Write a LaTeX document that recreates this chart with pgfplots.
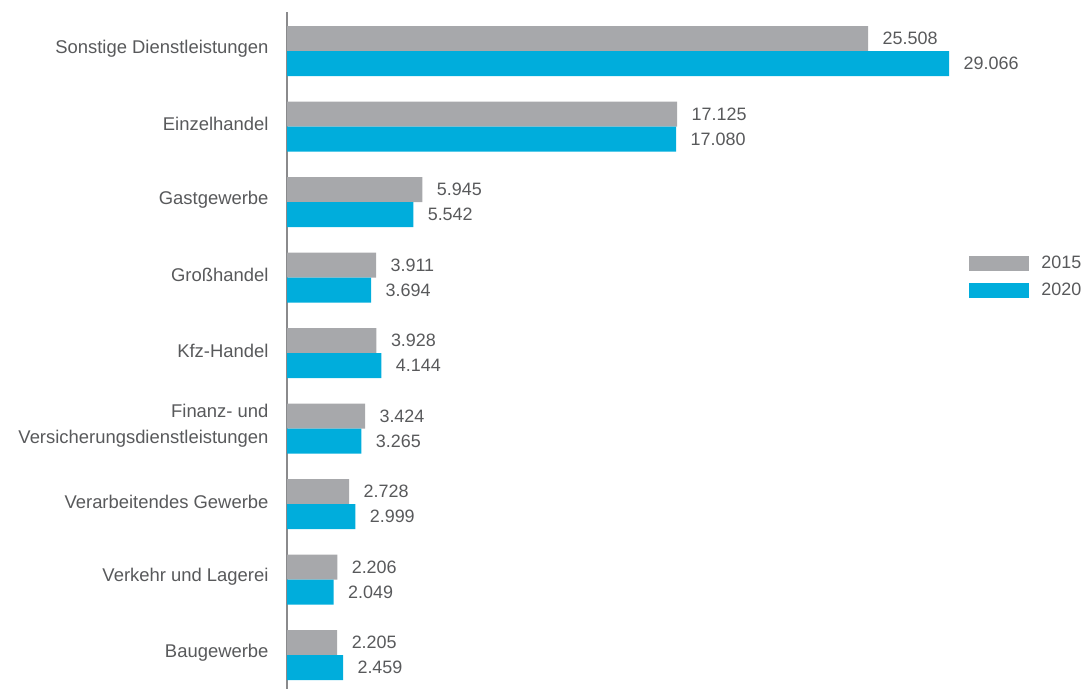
\documentclass[border=0pt]{standalone}
\usepackage{pgfplots}
\pgfplotsset{compat=1.18}
\usepackage{fontspec}
\setmainfont{Liberation Sans}
\definecolor{g15}{HTML}{A7A8AB}
\definecolor{c20}{HTML}{00ADDC}
\definecolor{txt}{HTML}{58595B}
\definecolor{axl}{HTML}{8A8A8C}
\begin{document}
\begin{tikzpicture}
\useasboundingbox (0,0) rectangle (1086bp,689bp);
\begin{axis}[
  at={(287bp,0bp)}, anchor=south west,
  scale only axis, width=799bp, height=677bp,
  xbar, bar width=25bp,
  xmin=0, xmax=35070,
  ymin=-0.45, ymax=8.52,
  axis x line=none,
  axis y line*=left,
  y axis line style={draw=axl, line width=1.2bp, -},
  major tick length=0pt,
  ytick={0,1,2,3,4,5,6,7,8},
  yticklabels={Baugewerbe,Verkehr und Lagerei,Verarbeitendes Gewerbe,{Finanz- und\\Versicherungsdienstleistungen},Kfz-Handel,Großhandel,Gastgewerbe,Einzelhandel,Sonstige Dienstleistungen},
  yticklabel style={font=\fontsize{18.5}{26}\selectfont, text=txt, align=right, anchor=east, xshift=-15bp, yshift=2.5bp},
  nodes near coords,
  every node near coord/.append style={font=\fontsize{18}{20}\selectfont, text=txt, anchor=west, xshift=11bp},
  /pgf/number format/.cd, 1000 sep={.}, assume math mode=true,
  /pgfplots/.cd,
  legend style={draw=none, fill=none, at={(rel axis cs:0.85,0.609)}, anchor=west, font=\fontsize{18}{20}\selectfont, text=txt, row sep=9bp, /tikz/every even column/.append style={column sep=0bp}},
  legend cell align=left,
  legend image code/.code={\path[#1,draw=none] (0bp,-7.5bp) rectangle (60bp,7.5bp);},
  legend style={nodes={inner xsep=12bp}},
]
\addplot[fill=g15, draw=none, bar shift=12.5bp] coordinates {
(2205,0) (2206,1) (2728,2) (3424,3) (3928,4) (3911,5) (5945,6) (17125,7) (25508,8)};
\addplot[fill=c20, draw=none, bar shift=-12.5bp] coordinates {
(2459,0) (2049,1) (2999,2) (3265,3) (4144,4) (3694,5) (5542,6) (17080,7) (29066,8)};
\legend{2015,2020}
\end{axis}
\end{tikzpicture}
\end{document}
